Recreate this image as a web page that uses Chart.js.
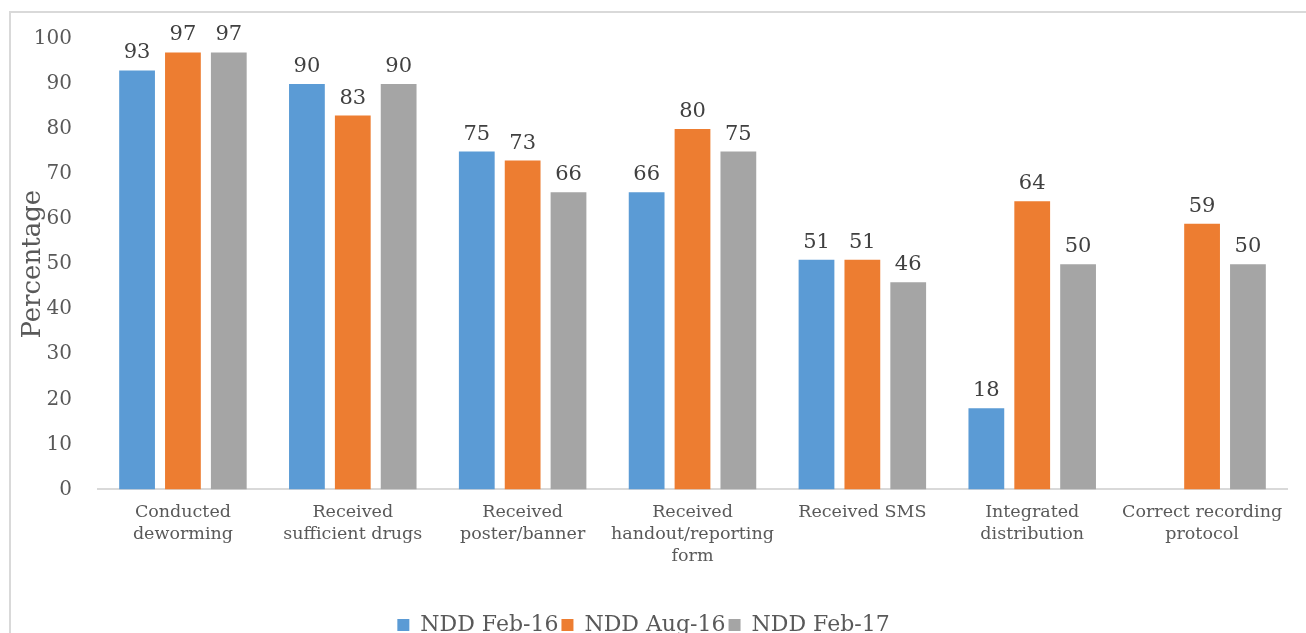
<!DOCTYPE html>
<html><head><meta charset="utf-8">
<script src="https://cdn.jsdelivr.net/npm/chart.js@4"></script>
<style>
html,body{margin:0;padding:0;width:1306px;height:633px;overflow:hidden;background:#fff;}
#frame{position:absolute;left:9px;top:11px;width:1400px;height:700px;border:2px solid #d9d9d9;box-sizing:border-box;}
#wrap{position:absolute;left:0;top:0;width:1306px;height:660px;}
</style></head>
<body>
<div id="frame"></div>
<div id="wrap"><canvas id="c" width="1306" height="660"></canvas></div>
<script>
const categories = [
  ["Conducted","deworming"],
  ["Received","sufficient drugs"],
  ["Received","poster/banner"],
  ["Received","handout/reporting","form"],
  ["Received SMS"],
  ["Integrated","distribution"],
  ["Correct recording","protocol"]
];
const seriesNames = ["NDD Feb-16","NDD Aug-16","NDD Feb-17"];
const feb16 = [93, 90, 75, 66, 51, 18, null];
const aug16 = [97, 83, 73, 80, 51, 64, 59];
const feb17 = [97, 90, 66, 75, 46, 50, 50];
const yTicks = [0,10,20,30,40,50,60,70,80,90,100];
const colors = ["#5B9BD5","#ED7D31","#A5A5A5"];
const FONT = "'DejaVu Serif', serif";
Chart.defaults.font.family = FONT;

const labelPlugin = {
  id: 'valueLabels',
  afterDatasetsDraw(chart) {
    const ctx = chart.ctx;
    ctx.save();
    ctx.font = "21px " + FONT;
    ctx.fillStyle = "#404040";
    ctx.textAlign = "center";
    ctx.textBaseline = "bottom";
    chart.data.datasets.forEach((ds, i) => {
      const meta = chart.getDatasetMeta(i);
      meta.data.forEach((bar, j) => {
        const v = ds.data[j];
        if (v === null || v === undefined) return;
        ctx.fillText(String(v), bar.x, bar.y - 7);
      });
    });
    ctx.restore();
  }
};

new Chart(document.getElementById('c'), {
  type: 'bar',
  data: {
    labels: categories,
    datasets: [
      {label: seriesNames[0], data: feb16, backgroundColor: colors[0]},
      {label: seriesNames[1], data: aug16, backgroundColor: colors[1]},
      {label: seriesNames[2], data: feb17, backgroundColor: colors[2]}
    ]
  },
  options: {
    responsive: false,
    animation: false,
    devicePixelRatio: 1,
    layout: {padding: {left: 0, right: 19, top: 39, bottom: 14}},
    datasets: {bar: {categoryPercentage: 0.81, barPercentage: 0.78}},
    plugins: {
      legend: {
        position: 'bottom',
        labels: {
          font: {family: FONT, size: 22},
          color: "#595959",
          boxWidth: 12, boxHeight: 12,
          padding: 3
        }
      },
      tooltip: {enabled: false}
    },
    scales: {
      x: {
        grid: {display: false},
        border: {color: "#d9d9d9", width: 2},
        afterFit(axis){ axis.height += 40; },
        ticks: {font: {family: FONT, size: 17.5, lineHeight: 1.25}, color: "#595959", maxRotation: 0, autoSkip: false, padding: 4}
      },
      y: {
        min: 0, max: 100,
        afterBuildTicks(axis){ axis.ticks = yTicks.map(v => ({value: v})); },
        afterFit(axis){ axis.width = 98; },
        grid: {display: false},
        border: {display: false},
        ticks: {font: {family: FONT, size: 20}, color: "#595959", padding: 18},
        title: {display: true, text: "Percentage", font: {family: FONT, size: 26}, color: "#595959", padding: {top: 18, bottom: 2}}
      }
    }
  },
  plugins: [labelPlugin]
});
</script>
</body></html>
